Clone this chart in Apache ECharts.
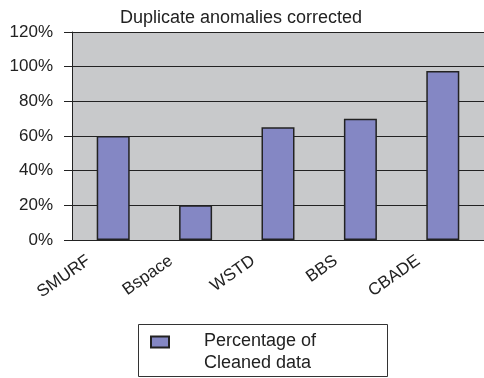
<!DOCTYPE html>
<html>
<head>
<meta charset="utf-8">
<script src="https://cdn.jsdelivr.net/npm/echarts@6/dist/echarts.min.js"></script>
<style>
  html, body { margin: 0; padding: 0; background: #fff; }
  #main { width: 484px; height: 378px; }
</style>
</head>
<body>
<div id="main"></div>
<script>
// chart data
var categories = ["SMURF", "Bspace", "WSTD", "BBS", "CBADE"];
var cleanedPct = [60, 20, 65, 70, 97.5];
var seriesName = "Percentage of\nCleaned data";

var myChart = echarts.init(document.getElementById("main"));
var font = "Liberation Sans, Arial, sans-serif";

var option = {
  backgroundColor: "#fff",
  animation: false,
  title: {
    text: "Duplicate anomalies corrected",
    left: 115,
    top: 4,
    textStyle: { fontFamily: font, fontSize: 18, fontWeight: "normal", color: "#222" }
  },
  grid: {
    left: 72,
    top: 32,
    right: -5,
    bottom: 138,
    show: true,
    backgroundColor: "#c8c9cb",
    borderWidth: 0
  },
  // legend frame
  graphic: [
    {
      type: "rect",
      left: 138,
      top: 324,
      shape: { width: 249, height: 52 },
      style: { fill: "transparent", stroke: "#333", lineWidth: 1 }
    }
  ],
  legend: {
    left: 150,
    top: 332,
    padding: 0,
    icon: "rect",
    itemWidth: 18,
    itemHeight: 11,
    itemGap: 5,
    data: [seriesName],
    formatter: function (name) {
      return name.split("\n").map(function (s) { return "{a|" + s + "}"; }).join("\n");
    },
    textStyle: {
      fontFamily: font,
      fontSize: 18,
      color: "#222",
      padding: [20, 0, 0, 30],
      rich: { a: { fontFamily: font, fontSize: 18, color: "#222", lineHeight: 22 } }
    }
  },
  xAxis: {
    type: "category",
    data: categories,
    axisLine: { lineStyle: { color: "#222", width: 1 } },
    axisTick: { length: 5, lineStyle: { color: "#222" } },
    axisLabel: {
      rotate: 35,
      margin: 2,
      fontFamily: font,
      fontSize: 17,
      color: "#222",
      formatter: function (v) { return "{a|" + v + "}"; },
      rich: { a: { fontFamily: font, fontSize: 17, color: "#222", padding: [0, 30, 0, 0] } }
    }
  },
  yAxis: {
    type: "value",
    min: 0,
    max: 120,
    interval: 20,
    axisLine: { show: true, lineStyle: { color: "#222", width: 1 } },
    axisTick: { show: true, length: 8, lineStyle: { color: "#222" } },
    axisLabel: {
      margin: 19,
      fontFamily: font,
      fontSize: 17,
      color: "#222",
      formatter: "{value}%"
    },
    splitLine: { lineStyle: { color: "#222", width: 1 } }
  },
  series: [
    {
      name: seriesName,
      type: "bar",
      barWidth: 33,
      data: cleanedPct,
      itemStyle: {
        color: "#8487c4",
        borderColor: "#222",
        borderWidth: 1.5
      }
    }
  ]
};
myChart.setOption(option);
</script>
</body>
</html>
